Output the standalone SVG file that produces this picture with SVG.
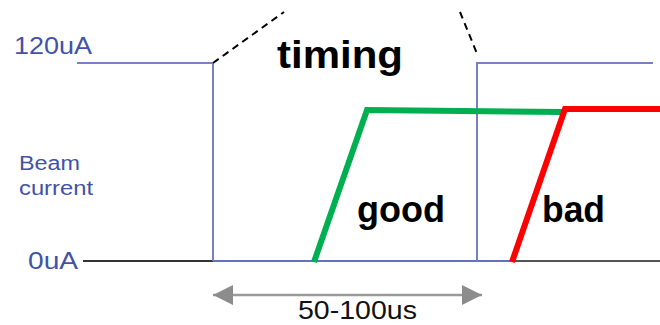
<svg xmlns="http://www.w3.org/2000/svg" width="660" height="325" viewBox="0 0 660 325">
<style>
.lbl{font-family:"Liberation Sans",Arial,sans-serif;fill:#4152a8}
.big{font-family:"Liberation Sans",Arial,sans-serif;font-weight:bold;fill:#000}
.pulse{fill:none;stroke:#7880c4;stroke-width:2}
.dash{fill:none;stroke:#000;stroke-width:2;stroke-dasharray:7,5}
.sig{fill:none;stroke-width:6;stroke-linejoin:miter}
</style>
<defs>
<marker id="ah" viewBox="0 0 10 10" refX="10" refY="5" markerWidth="11" markerHeight="8" markerUnits="strokeWidth" orient="auto-start-reverse">
<path d="M0,0 L10,5 L0,10 Z" fill="#8c8c8c"/>
</marker>
</defs>
<g id="axis-labels">
<text class="lbl" x="14" y="54" font-size="24" textLength="78" lengthAdjust="spacingAndGlyphs">120uA</text>
<text class="lbl" x="19" y="170" font-size="20" textLength="61" lengthAdjust="spacingAndGlyphs">Beam</text>
<text class="lbl" x="19" y="195" font-size="20" textLength="74" lengthAdjust="spacingAndGlyphs">current</text>
<text class="lbl" x="28" y="269" font-size="24" textLength="50" lengthAdjust="spacingAndGlyphs">0uA</text>
</g>
<g id="baseline">
<line x1="83" y1="261" x2="213" y2="261" stroke="#333" stroke-width="2"/>
<line x1="513" y1="261" x2="660" y2="261" stroke="#555" stroke-width="2"/>
<line x1="213" y1="261" x2="513" y2="261" stroke="#6670c0" stroke-width="2"/>
</g>
<g id="pulse1">
<polyline class="pulse" points="77,63 213,63 213,261"/>
</g>
<g id="pulse2">
<polyline class="pulse" points="477,261 477,63 653,63"/>
</g>
<g id="connectors">
<line class="dash" x1="213" y1="63" x2="284" y2="12"/>
<line class="dash" x1="460" y1="12" x2="478" y2="56"/>
<line x1="213" y1="295" x2="482" y2="295" stroke="#9a9a9a" stroke-width="2.5" marker-start="url(#ah)" marker-end="url(#ah)"/>
</g>
<g id="good">
<polyline class="sig" stroke="#00b050" points="314,262 367,110 562,112"/>
<text class="big" x="357" y="222" font-size="36" textLength="88" lengthAdjust="spacingAndGlyphs">good</text>
</g>
<g id="bad">
<polyline class="sig" stroke="#ff0000" points="512,262 565,109 660,109"/>
<text class="big" x="542" y="222" font-size="36" textLength="63" lengthAdjust="spacingAndGlyphs">bad</text>
</g>
<g id="title">
<text class="big" x="277" y="68" font-size="38" textLength="126" lengthAdjust="spacingAndGlyphs">timing</text>
</g>
<g id="duration">
<text x="298" y="319" font-family="Liberation Sans, Arial, sans-serif" font-size="25" fill="#111" textLength="119" lengthAdjust="spacingAndGlyphs">50-100us</text>
</g>
</svg>
